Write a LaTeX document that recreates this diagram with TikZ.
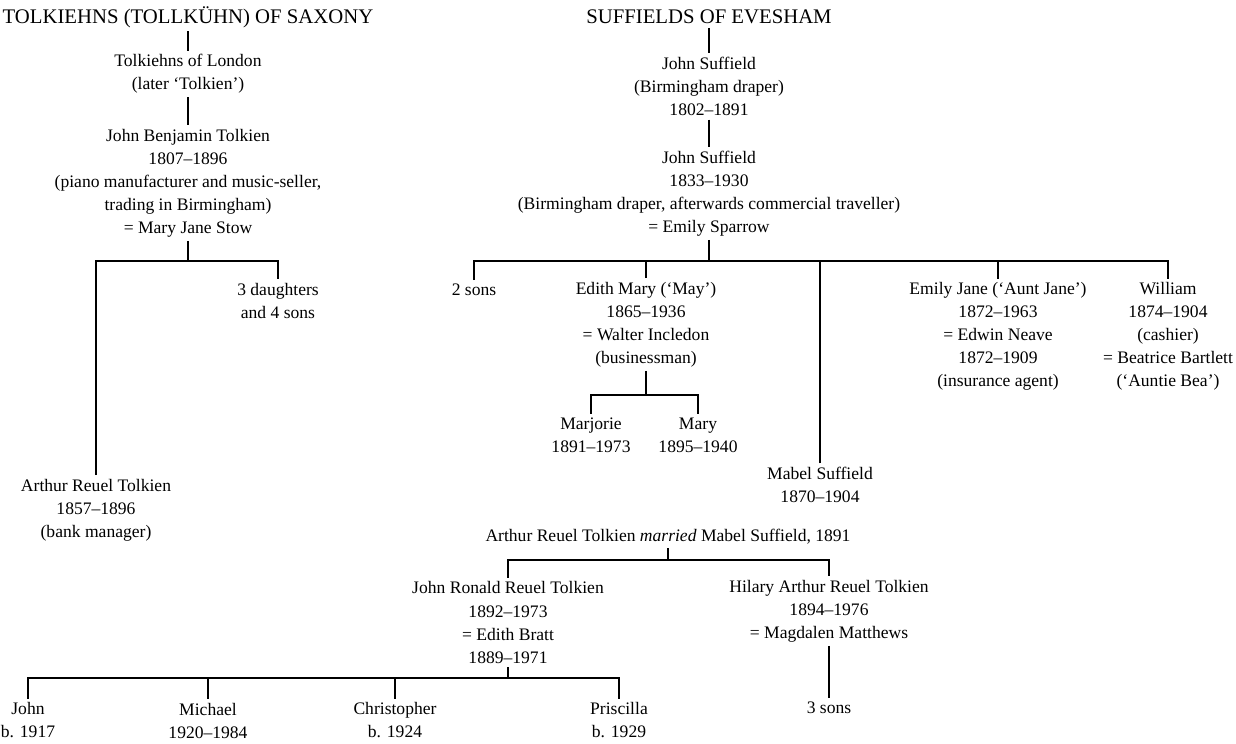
\documentclass[tikz,border=0pt]{standalone}
\usepackage{fontspec}
\setmainfont{Liberation Serif}
\begin{document}
\begin{tikzpicture}[x=0.02cm,y=-0.02cm,
    person/.style={align=center,inner sep=2pt,font=\fontsize{10}{13.1}\selectfont},
    house/.style={person,font=\fontsize{11.8}{13.1}\selectfont},
    tree/.style={line width=0.8pt}]
  \useasboundingbox (0,0) rectangle (1236,743);

  % Tolkien side
  \node [house] (tolk) at (188,17) {TOLKIEHNS (TOLLKÜHN) OF SAXONY};
  \node [person] (london) at (188,74) {Tolkiehns of London\\(later `Tolkien')};
  \node [person] (jbt) at (188,183) {John Benjamin Tolkien\\1807--1896\\(piano manufacturer and music-seller,\\trading in Birmingham)\\= Mary Jane Stow};
  \node [person] (daughters) at (278,301) {3 daughters\\and 4 sons};
  \node [person] (arthur) at (96,510) {Arthur Reuel Tolkien\\1857--1896\\(bank manager)};

  % Suffield side
  \node [house] (suff) at (709,17) {SUFFIELDS OF EVESHAM};
  \node [person] (js1) at (709,86.5) {John Suffield\\(Birmingham draper)\\1802--1891};
  \node [person] (js2) at (709,193.5) {John Suffield\\1833--1930\\(Birmingham draper, afterwards commercial traveller)\\= Emily Sparrow};
  \node [person] (twosons) at (474,290) {2 sons};
  \node [person] (edith) at (646,324.5) {Edith Mary (`May')\\1865--1936\\= Walter Incledon\\(businessman)};
  \node [person] (marjorie) at (591,435) {Marjorie\\1891--1973};
  \node [person] (mary) at (698,435) {Mary\\1895--1940};
  \node [person] (mabel) at (820,485) {Mabel Suffield\\1870--1904};
  \node [person] (emily) at (998,336.5) {Emily Jane (`Aunt Jane')\\1872--1963\\= Edwin Neave\\1872--1909\\(insurance agent)};
  \node [person] (william) at (1168,336.5) {William\\1874--1904\\(cashier)\\= Beatrice Bartlett\\(`Auntie Bea')};

  % the marriage and after
  \node [person] (married) at (668,537) {Arthur Reuel Tolkien \emph{married} Mabel Suffield, 1891};
  \node [person] (jrrt) at (508,622.5) {John Ronald Reuel Tolkien\\1892--1973\\= Edith Bratt\\1889--1971};
  \node [person] (hilary) at (829,611) {Hilary Arthur Reuel Tolkien\\1894--1976\\= Magdalen Matthews};
  \node [person] (john) at (28,720.5) {John\\b. 1917};
  \node [person] (michael) at (208,720.5) {Michael\\1920--1984};
  \node [person] (christopher) at (395,720.5) {Christopher\\b. 1924};
  \node [person] (priscilla) at (619,720.5) {Priscilla\\b. 1929};
  \node [person] (sons3) at (829,708) {3 sons};

  \coordinate (jbtbus) at (188,261);
  \coordinate (sufbus) at (709,261);
  \coordinate (edithbus) at (646,395);
  \coordinate (marbus) at (668,560);
  \coordinate (jrrtbus) at (508,678);

  \draw [tree] (tolk) -- (london);
  \draw [tree] (london) -- (jbt);
  \draw [tree] (jbt) -- (jbtbus);
  \draw [tree] (arthur) |- (jbtbus) -| (daughters);

  \draw [tree] (suff) -- (js1);
  \draw [tree] (js1) -- (js2);
  \draw [tree] (js2) -- (sufbus);
  \draw [tree] (twosons) |- (sufbus) -| (william);
  \foreach \c in {edith,mabel,emily}
    \draw [tree] (\c) |- (sufbus);
  \draw [tree] (edith) -- (edithbus);
  \draw [tree] (marjorie) |- (edithbus) -| (mary);

  \draw [tree] (married) -- (marbus);
  \draw [tree] (jrrt) |- (marbus) -| (hilary);
  \draw [tree] (jrrt) -- (jrrtbus);
  \draw [tree] (john) |- (jrrtbus) -| (priscilla);
  \foreach \c in {michael,christopher}
    \draw [tree] (\c) |- (jrrtbus);
  \draw [tree] (hilary) -- (sons3);
\end{tikzpicture}
\end{document}
